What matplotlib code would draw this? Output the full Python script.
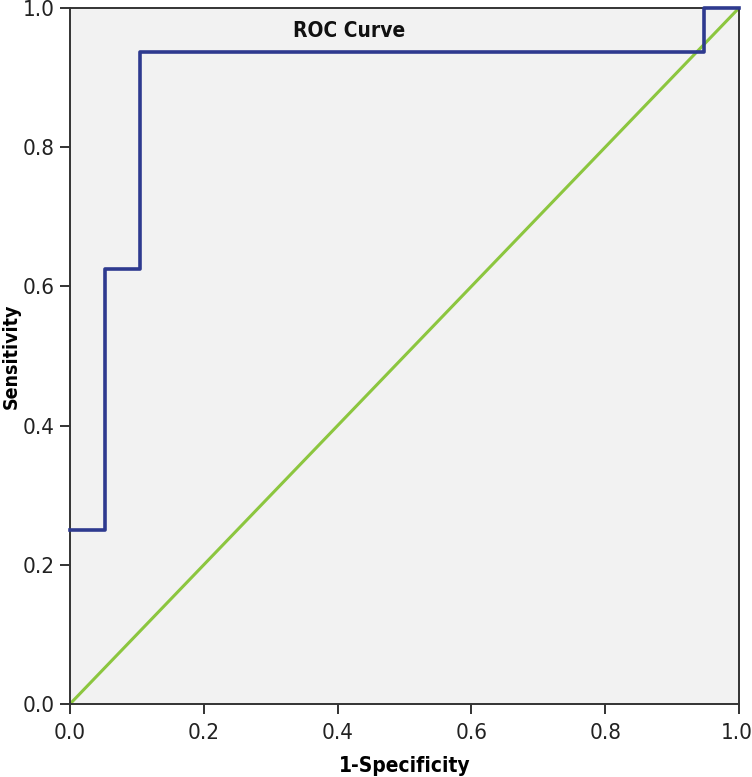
import matplotlib.pyplot as plt
import matplotlib.transforms as mtransforms

# ROC points (1-specificity, sensitivity)
fpr = [0.0, 0.0526, 0.0526, 0.1053, 0.1053, 0.9474, 0.9474, 1.0]
tpr = [0.25, 0.25, 0.625, 0.625, 0.9375, 0.9375, 1.0, 1.0]
ref_line = [0.0, 1.0]
ticks = [0.0, 0.2, 0.4, 0.6, 0.8, 1.0]

plt.rcParams['font.family'] = ['DejaVu Sans']
plt.rcParams['font.stretch'] = 'condensed'


def do_plot():
    fig = plt.figure(figsize=(7.52, 7.77), dpi=100)
    ax = fig.add_axes([0.0931, 0.094, 0.8896, 0.8957])
    ax.set_facecolor('#f2f2f2')
    ax.plot(ref_line, ref_line, color='#8cc63f', lw=2.2, zorder=2)
    ax.plot(fpr, tpr, color='#2e3a8f', lw=2.6, zorder=3, clip_on=False)
    ax.set_xlim(0, 1)
    ax.set_ylim(0, 1)
    ax.set_xticks(ticks)
    ax.set_yticks(ticks)
    ax.set_xticklabels(['%.1f' % t for t in ticks])
    ax.set_yticklabels(['%.1f' % t for t in ticks])
    ax.tick_params(direction='out', length=7, width=1.3, labelsize=16, colors='#222222')
    ax.tick_params(axis='x', pad=7)
    ax.tick_params(axis='y', pad=4)
    # keep the last x label inside the figure
    lab = ax.get_xticklabels()[-1]
    lab.set_transform(lab.get_transform() + mtransforms.ScaledTranslation(-0.02, 0, fig.dpi_scale_trans))
    for s in ax.spines.values():
        s.set_linewidth(1.4)
        s.set_color('#333333')
    ax.set_xlabel('1-Specificity', fontsize=15, fontweight='bold', labelpad=9)
    ax.set_ylabel('Sensitivity', fontsize=14, fontweight='bold', labelpad=1)
    ax.text(0.417, 0.967, 'ROC Curve', transform=ax.transAxes, ha='center', va='center',
            fontsize=15, fontweight='bold', color='#111111')
    fig.savefig('out.png', dpi=100)


if __name__ == '__main__':
    do_plot()
